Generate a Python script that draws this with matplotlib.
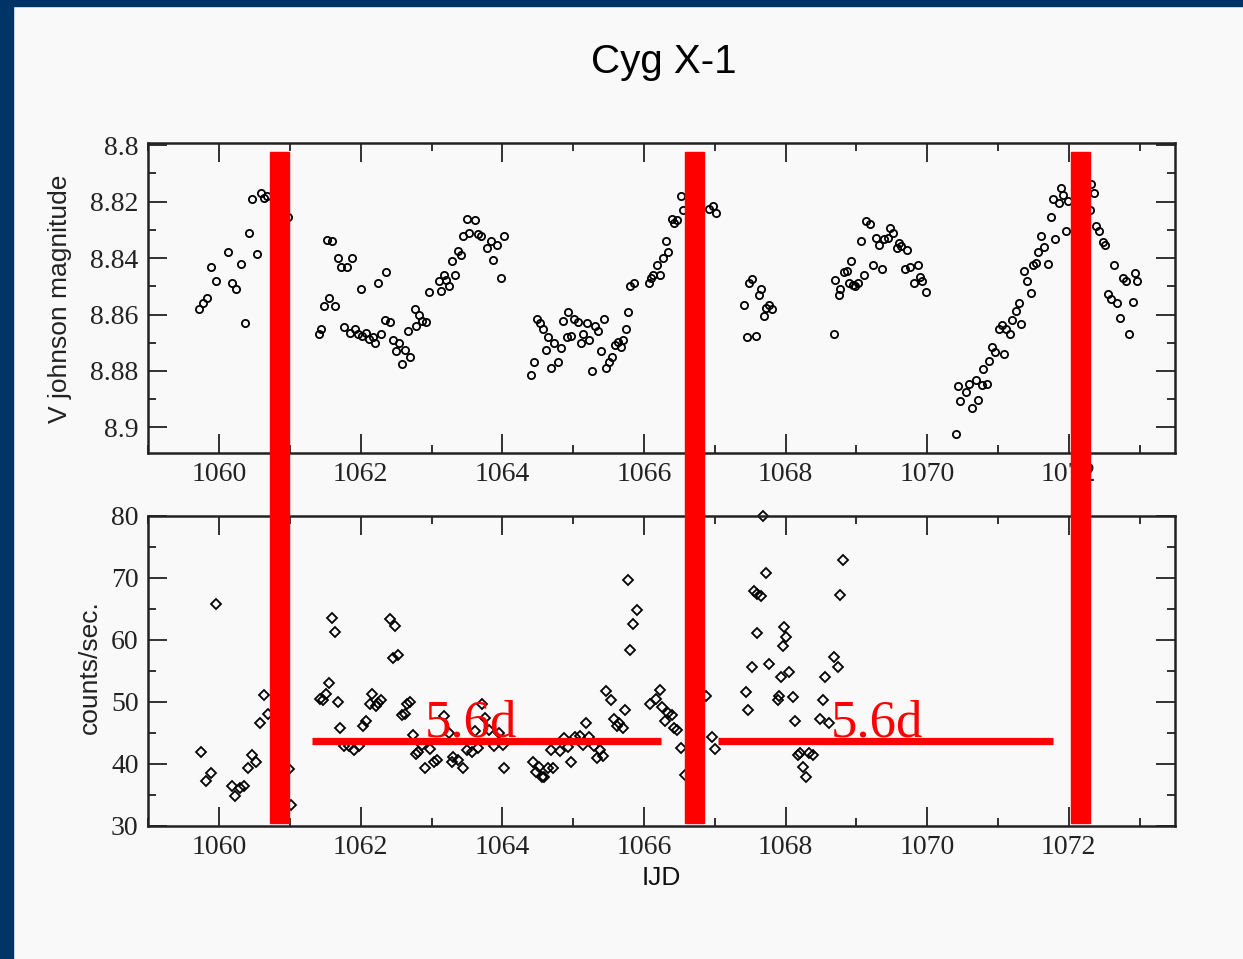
import matplotlib
matplotlib.use('Agg')
import matplotlib.pyplot as plt
from matplotlib.ticker import MultipleLocator, FuncFormatter
from matplotlib.patches import Rectangle
from matplotlib.transforms import blended_transform_factory

# optical light curve (V johnson magnitude)
t_opt = [1059.71, 1059.77, 1059.83, 1059.89, 1059.96, 1060.13, 1060.18, 1060.24, 1060.31, 1060.37,
         1060.42, 1060.47, 1060.53, 1060.59, 1060.64, 1060.68, 1060.97,
         1061.41, 1061.44, 1061.48, 1061.52, 1061.59, 1061.55, 1061.64, 1061.68, 1061.72, 1061.80,
         1061.77, 1061.87, 1061.85, 1061.92, 1061.96, 1062.01, 1062.02, 1062.07, 1062.11, 1062.17,
         1062.20, 1062.25, 1062.29, 1062.36, 1062.34, 1062.41, 1062.45, 1062.50, 1062.54, 1062.59,
         1062.62, 1062.67, 1062.70, 1062.76, 1062.78, 1062.82, 1062.87, 1062.92, 1062.96, 1063.11,
         1063.14, 1063.18, 1063.20, 1063.25, 1063.29, 1063.33, 1063.38, 1063.42, 1063.45, 1063.50,
         1063.53, 1063.62, 1063.66, 1063.70, 1063.79, 1063.84, 1063.87, 1063.92, 1063.98, 1064.02,
         1064.41, 1064.45, 1064.49, 1064.53, 1064.57, 1064.61, 1064.65, 1064.69, 1064.73, 1064.78,
         1064.83, 1064.86, 1064.92, 1064.93, 1064.97, 1065.01, 1065.07, 1065.11, 1065.14, 1065.19,
         1065.23, 1065.26, 1065.31, 1065.35, 1065.40, 1065.43, 1065.47, 1065.51, 1065.55, 1065.59,
         1065.64, 1065.67, 1065.71, 1065.75, 1065.78, 1065.81, 1065.86, 1066.07, 1066.10, 1066.13,
         1066.19, 1066.23, 1066.27, 1066.31, 1066.34, 1066.39, 1066.43, 1066.46, 1066.52, 1066.55,
         1066.92, 1066.97, 1067.02,
         1067.41, 1067.45, 1067.49, 1067.53, 1067.58, 1067.63, 1067.66, 1067.70, 1067.72, 1067.77,
         1067.81,
         1068.69, 1068.70, 1068.76, 1068.77, 1068.83, 1068.87, 1068.92, 1068.90, 1068.95, 1068.98,
         1069.02, 1069.06, 1069.11, 1069.14, 1069.19, 1069.24, 1069.28, 1069.32, 1069.36, 1069.39,
         1069.45, 1069.47, 1069.52, 1069.57, 1069.60, 1069.63, 1069.68, 1069.72, 1069.76, 1069.82,
         1069.87, 1069.90, 1069.93, 1069.98,
         1070.40, 1070.43, 1070.47, 1070.55, 1070.59, 1070.64, 1070.69, 1070.72, 1070.78, 1070.79,
         1070.84, 1070.88, 1070.92, 1070.96, 1071.01, 1071.08, 1071.05, 1071.12, 1071.17, 1071.20,
         1071.26, 1071.29, 1071.33, 1071.37, 1071.41, 1071.46, 1071.49, 1071.54, 1071.57, 1071.61,
         1071.65, 1071.70, 1071.75, 1071.77, 1071.81, 1071.86, 1071.89, 1071.92, 1071.96, 1071.99,
         1072.30, 1072.31, 1072.36, 1072.38, 1072.42, 1072.48, 1072.51, 1072.55, 1072.59, 1072.64,
         1072.68, 1072.72, 1072.77, 1072.81, 1072.85, 1072.90, 1072.94, 1072.97]
v_mag = [8.858, 8.856, 8.854, 8.843, 8.848, 8.838, 8.849, 8.851, 8.842, 8.863,
         8.831, 8.819, 8.8385, 8.817, 8.8186, 8.818, 8.8255,
         8.867, 8.865, 8.857, 8.8336, 8.834, 8.854, 8.857, 8.840, 8.843, 8.843,
         8.8645, 8.840, 8.8667, 8.865, 8.867, 8.851, 8.8676, 8.8664, 8.8686, 8.868,
         8.870, 8.849, 8.867, 8.845, 8.862, 8.8627, 8.869, 8.873, 8.870, 8.8776,
         8.8727, 8.866, 8.875, 8.858, 8.864, 8.860, 8.8624, 8.8626, 8.852, 8.848,
         8.8515, 8.846, 8.8477, 8.850, 8.841, 8.846, 8.8376, 8.839, 8.832, 8.826,
         8.831, 8.8264, 8.8316, 8.832, 8.8365, 8.834, 8.8406, 8.8353, 8.847, 8.832,
         8.8816, 8.877, 8.8615, 8.863, 8.865, 8.8725, 8.868, 8.879, 8.870, 8.877,
         8.8717, 8.8624, 8.868, 8.859, 8.8676, 8.8615, 8.8627, 8.870, 8.867, 8.863,
         8.869, 8.880, 8.864, 8.866, 8.873, 8.8617, 8.879, 8.877, 8.875, 8.8707,
         8.8697, 8.8715, 8.869, 8.8653, 8.859, 8.850, 8.849, 8.8488, 8.847, 8.846,
         8.8426, 8.846, 8.840, 8.8338, 8.838, 8.826, 8.8276, 8.8264, 8.818, 8.823,
         8.8226, 8.8214, 8.824,
         8.8568, 8.868, 8.849, 8.8473, 8.8676, 8.8532, 8.851, 8.8607, 8.8577, 8.8567,
         8.858,
         8.867, 8.8476, 8.853, 8.851, 8.845, 8.8444, 8.841, 8.849, 8.8497, 8.850,
         8.8488, 8.834, 8.846, 8.8267, 8.828, 8.8424, 8.833, 8.8353, 8.8438, 8.8334,
         8.833, 8.8294, 8.831, 8.8365, 8.8346, 8.8356, 8.8438, 8.8373, 8.843, 8.8488,
         8.8426, 8.8468, 8.848, 8.852,
         8.9025, 8.8854, 8.8907, 8.8874, 8.8848, 8.8933, 8.8833, 8.8903, 8.885, 8.8794,
         8.8845, 8.8766, 8.8715, 8.8733, 8.8653, 8.874, 8.8638, 8.865, 8.8668, 8.862,
         8.8587, 8.856, 8.8633, 8.8444, 8.848, 8.8524, 8.8424, 8.8417, 8.838, 8.832,
         8.836, 8.842, 8.8256, 8.819, 8.8334, 8.8205, 8.815, 8.8175, 8.8305, 8.8197,
         8.8229, 8.8138, 8.817, 8.8285, 8.8303, 8.8344, 8.8353, 8.8529, 8.8544, 8.8426,
         8.8558, 8.8611, 8.8471, 8.848, 8.867, 8.8556, 8.8452, 8.848]

# X-ray count rate
t_x = [1059.74, 1059.82, 1059.88, 1059.95, 1060.18, 1060.23, 1060.29, 1060.35, 1060.41, 1060.47,
       1060.52, 1060.58, 1060.64, 1060.69, 1060.99, 1061.02,
       1061.43, 1061.47, 1061.51, 1061.55, 1061.59, 1061.63, 1061.68, 1061.71, 1061.77, 1061.83,
       1061.90, 1061.97, 1062.03, 1062.08, 1062.16, 1062.13, 1062.21, 1062.24, 1062.29, 1062.41,
       1062.49, 1062.45, 1062.52, 1062.58, 1062.62, 1062.65, 1062.69, 1062.74, 1062.78, 1062.81,
       1062.87, 1062.91, 1062.98, 1063.03, 1063.08, 1063.17, 1063.24, 1063.29, 1063.31, 1063.38,
       1063.44, 1063.50, 1063.57, 1063.62, 1063.66, 1063.71, 1063.76, 1063.81, 1063.88, 1063.96,
       1064.03, 1064.01,
       1064.43, 1064.48, 1064.52, 1064.56, 1064.59, 1064.65, 1064.72, 1064.69, 1064.82, 1064.87,
       1064.93, 1064.97, 1065.03, 1065.09, 1065.14, 1065.18, 1065.22, 1065.29, 1065.33, 1065.38,
       1065.42, 1065.47, 1065.54, 1065.58, 1065.62, 1065.65, 1065.70, 1065.73, 1065.78, 1065.90,
       1065.85, 1065.80, 1066.09, 1066.17, 1066.22, 1066.26, 1066.30, 1066.34, 1066.39, 1066.42,
       1066.47, 1066.52, 1066.58, 1066.88, 1066.96, 1067.00,
       1067.44, 1067.47, 1067.52, 1067.55, 1067.60, 1067.65, 1067.60, 1067.68, 1067.73, 1067.77,
       1067.90, 1067.91, 1067.93, 1067.96, 1067.98, 1068.00, 1068.05, 1068.10, 1068.13, 1068.17,
       1068.21, 1068.25, 1068.29, 1068.33, 1068.39, 1068.48, 1068.53, 1068.56, 1068.61, 1068.69,
       1068.74, 1068.77, 1068.81]
rate = [41.9, 37.2, 38.45, 65.7, 36.45, 34.7, 36.0, 36.4, 39.35, 41.4,
        40.3, 46.5, 51.0, 48.0, 39.1, 33.3,
        50.4, 50.3, 51.2, 53.0, 63.55, 61.2, 49.9, 45.7, 42.9, 42.9,
        42.2, 42.9, 46.0, 46.9, 51.2, 49.6, 49.3, 49.8, 50.2, 63.3,
        62.2, 57.0, 57.5, 47.85, 48.0, 49.6, 50.0, 44.6, 41.5, 41.9,
        43.0, 39.25, 42.3, 40.3, 40.5, 47.7, 45.0, 40.3, 41.0, 40.6,
        39.25, 42.2, 41.8, 45.2, 42.5, 49.6, 47.3, 45.4, 42.75, 44.9,
        39.35, 43.0,
        40.3, 38.7, 39.5, 37.9, 37.75, 39.35, 39.35, 42.2, 42.05, 44.1,
        42.65, 40.3, 44.25, 44.5, 43.0, 46.5, 44.25, 42.85, 40.9, 42.2,
        41.25, 51.7, 50.2, 47.2, 46.0, 46.5, 45.7, 48.7, 69.6, 64.7,
        62.5, 58.3, 49.6, 50.4, 51.9, 49.1, 46.9, 48.1, 47.85, 45.8,
        45.4, 42.5, 38.2, 50.9, 44.25, 42.4,
        51.5, 48.7, 55.5, 67.85, 67.3, 67.0, 61.0, 80.0, 70.8, 56.1,
        50.3, 50.9, 54.0, 58.9, 62.1, 60.4, 54.8, 50.8, 46.8, 41.4,
        41.7, 39.5, 37.75, 41.7, 41.4, 47.2, 50.3, 53.9, 46.5, 57.25,
        55.55, 67.2, 72.85]

# red annotations: dips and 5.6 d intervals
dip_days = [1060.85, 1066.72, 1072.16]
period_start = [1061.31, 1067.05]
period_end = [1066.24, 1071.77]
period_level = 43.7
period_label = '5.6d'

bg = '#f9f9f9'
serif = ['Liberation Serif', 'DejaVu Serif']
sans = ['Liberation Sans', 'DejaVu Sans']

fig = plt.figure(figsize=(12.43, 9.59), dpi=100, facecolor=bg)

# navy frame strips
fig.add_artist(Rectangle((0, 0), 13 / 1243, 1, transform=fig.transFigure, color='#003366', zorder=0))
fig.add_artist(Rectangle((0, 1 - 6 / 959), 1, 6 / 959, transform=fig.transFigure, color='#003366', zorder=0))

ax1 = fig.add_axes([0.1193, 0.5279, 0.8260, 0.3227], facecolor=bg)
ax2 = fig.add_axes([0.1193, 0.1392, 0.8260, 0.3231], facecolor=bg)

ax1.plot(t_opt, v_mag, 'o', ms=5.2, mfc='none', mec='black', mew=1.3)
ax2.plot(t_x, rate, 'D', ms=4.8, mfc='none', mec='black', mew=1.3, clip_on=False)

ax1.set_xlim(1059.0, 1073.5)
ax1.set_ylim(8.909, 8.7993)
ax2.set_xlim(1059.0, 1073.5)
ax2.set_ylim(30, 80)

ax1.yaxis.set_major_locator(MultipleLocator(0.02))
ax1.yaxis.set_minor_locator(MultipleLocator(0.01))
ax1.yaxis.set_major_formatter(FuncFormatter(lambda v, p: '%g' % round(v, 3)))
ax2.yaxis.set_major_locator(MultipleLocator(10))
ax2.yaxis.set_minor_locator(MultipleLocator(5))

for ax in (ax1, ax2):
    ax.xaxis.set_major_locator(MultipleLocator(2))
    ax.xaxis.set_minor_locator(MultipleLocator(1))
    ax.tick_params(which='both', direction='in', top=True, right=True, width=1.3, colors='#222222')
    ax.tick_params(which='major', length=14, pad=7, labelsize=20)
    ax.tick_params(which='minor', length=6)
    for lab in ax.get_xticklabels() + ax.get_yticklabels():
        lab.set_family(serif)
    for sp in ax.spines.values():
        sp.set_linewidth(1.8)
        sp.set_color('#222222')

ax1.set_ylabel('V johnson magnitude', fontsize=19, family=sans, color='#222222')
ax1.yaxis.set_label_coords(-0.0743, 0.498)
ax2.set_ylabel('counts/sec.', fontsize=19, family=sans, color='#222222')
ax2.yaxis.set_label_coords(-0.0451, 0.51)
ax2.set_xlabel('IJD', fontsize=19, family=sans, color='#111111', labelpad=4)

fig.text(664 / 1243, 1 - 62 / 959, 'Cyg X-1', ha='center', va='center', fontsize=29, family=sans)

# vertical red bars spanning both panels
tr = blended_transform_factory(ax2.transData, fig.transFigure)
for d in dip_days:
    ax2.add_artist(Rectangle((d - 0.135, 1 - 823 / 959), 0.27, (823 - 152) / 959,
                             transform=tr, color='#ff0000', clip_on=False, zorder=5))

for s, e in zip(period_start, period_end):
    ax2.plot([s, e], [period_level, period_level], color='#ff0000', lw=5.2, solid_capstyle='butt', zorder=4)
    ax2.text(s + 1.59, period_level + 0.6, period_label, color='#ff0000', fontsize=38,
             family=serif, ha='left', va='baseline', zorder=6)

fig.savefig('out.png', dpi=100, facecolor=bg)
